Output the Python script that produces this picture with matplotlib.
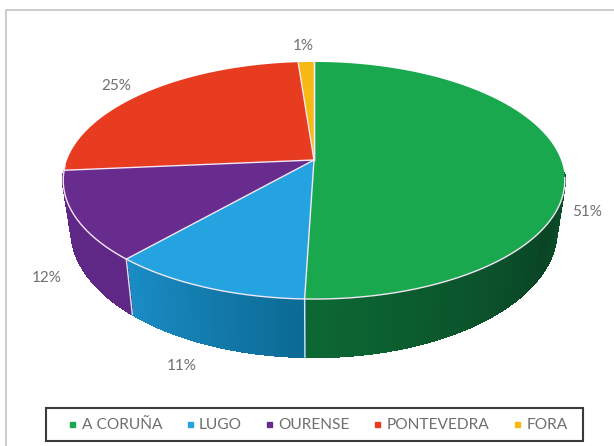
import numpy as np
from matplotlib import pyplot as plt
from matplotlib.colors import to_rgb
from matplotlib.lines import Line2D
from matplotlib.patches import Rectangle

plt.rcParams['font.family'] = ['Lato', 'DejaVu Sans']

provinces = ["A CORUÑA", "LUGO", "OURENSE", "PONTEVEDRA", "FORA"]
shares = [50.5, 11.0, 12.1, 25.2, 1.2]
labels = ["51%", "11%", "12%", "25%", "1%"]
colors = ["#1aa84f", "#25a3e0", "#682c8e", "#e83c20", "#f7b912"]
# side colours: start and end of the shading, going clockwise
side_from = ["#0a6e33", "#0c6a94", "#5f2886", "#b52c18", "#b98a0c"]
side_to = ["#0b6a32", "#1a8dc6", "#5f2886", "#b52c18", "#b98a0c"]

label_pos = [(587, 212), (182, 366), (47, 278), (116, 86), (303, 46)]
text_col = "#6f6f6f"

# perspective of the pie, in pixels
cx, cy = 314, 160
kx, ky, persp = 247, 115, 0.173
depth, shrink = 48, 0.968


def top_rim(ang):
	x = np.sin(ang)
	y = np.cos(ang)
	w = 1 + persp * y
	return cx + kx * x / w, cy - ky * y / w


def bottom_rim(ang):
	X, Y = top_rim(ang)
	w = 1 + persp * np.cos(ang)
	return cx + (X - cx) * shrink, Y + depth / w


fig = plt.figure(figsize=(6.14, 4.46), dpi=100, facecolor="white")
ax = fig.add_axes([0, 0, 1, 1])
ax.set_xlim(0, 614)
ax.set_ylim(446, 0)
ax.axis("off")

# chart frame
ax.plot([6, 6, 614], [446, 10, 10], color="#c4c4c4", lw=1.2)

edges = np.cumsum([0] + shares) / 100 * 2 * np.pi

# side of the pie
for i in range(len(shares)):
	ang = np.linspace(edges[i], edges[i + 1], 90)
	c1 = np.array(to_rgb(side_from[i]))
	c2 = np.array(to_rgb(side_to[i]))
	for j in range(len(ang) - 1):
		# back of the pie is hidden anyway
		if np.cos(ang[j]) > -0.09:
			continue
		if i == 0:
			# green is darkest towards the front right
			t = abs(ang[j] - 2.1) / 1.1
			c = np.array(to_rgb("#0a4526")) + (np.array(to_rgb("#0c6a34")) - np.array(to_rgb("#0a4526"))) * min(t, 1)
		else:
			c = c1 + (c2 - c1) * (ang[j] - edges[i]) / (edges[i + 1] - edges[i])
		a = ang[j:j + 2]
		xt, yt = top_rim(a)
		xb, yb = bottom_rim(a)
		ax.fill(np.r_[xt, xb[::-1]], np.r_[yt, yb[::-1]], facecolor=c, edgecolor=c,
			lw=0.9, antialiased=False, zorder=2)

# seams on the side, only where the side is visible
for e in edges:
	if np.cos(e) < -0.15:
		xt, yt = top_rim(e)
		xb, yb = bottom_rim(e)
		ax.plot([xt, xb], [yt, yb], color="#cfe6f2", lw=1.0, zorder=3)

# top of the pie
for i in range(len(shares)):
	ang = np.linspace(edges[i], edges[i + 1], 200)
	xs, ys = top_rim(ang)
	ax.fill(np.r_[cx, xs], np.r_[cy, ys], facecolor=colors[i], edgecolor="none", zorder=4)
for e in edges:
	xt, yt = top_rim(e)
	ax.plot([cx, xt], [cy, yt], color="#f3e6f5", lw=1.0, zorder=5)

# pale line where the top meets the side
front = np.linspace(np.pi / 2 + 0.15, 3 * np.pi / 2 - 0.05, 300)
xs, ys = top_rim(front)
ax.plot(xs, ys, color="#f3e6f5", lw=1.0, zorder=5)

for txt, (x, y) in zip(labels, label_pos):
	ax.text(x, y, txt, color=text_col, fontsize=11, ha="center", va="center", zorder=6)

# legend
handles = [Line2D([], [], ls="none", marker="s", ms=3.6, color=c) for c in colors]
leg = ax.legend(handles, provinces, ncol=5, loc="center", bbox_to_anchor=(316, 425),
	bbox_transform=ax.transData, fontsize=11.2, labelcolor=text_col, frameon=False,
	handletextpad=0.1, columnspacing=1.26, handlelength=1.0, borderaxespad=0)
ax.add_patch(Rectangle((46, 408), 537, 33, fill=False, edgecolor="#3a3a3a", lw=1.5, zorder=5))

fig.savefig("out.png", dpi=100)
